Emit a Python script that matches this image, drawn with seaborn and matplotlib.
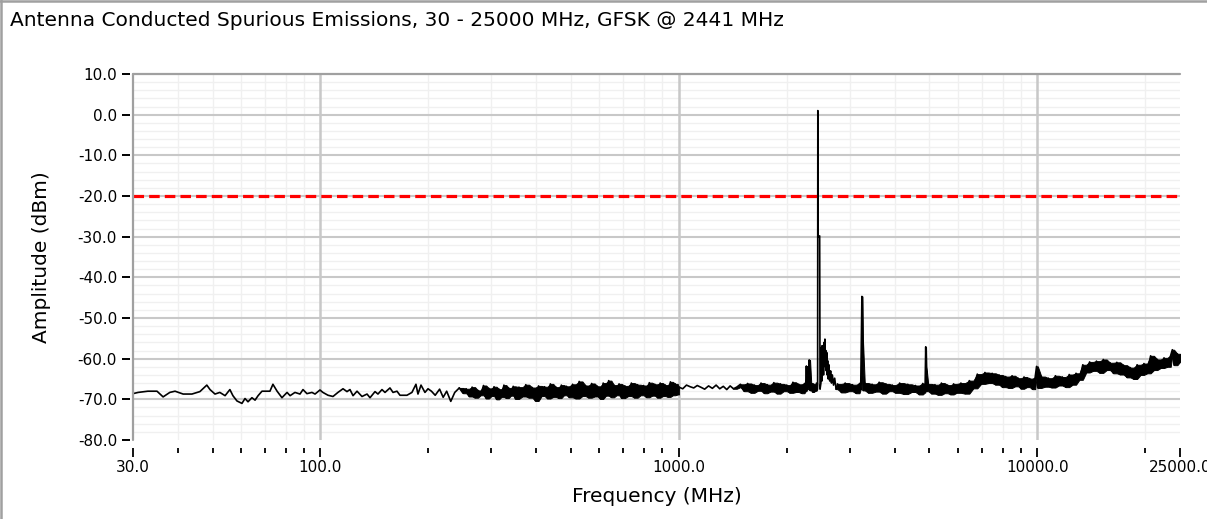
import numpy as np
import pandas as pd
import matplotlib
matplotlib.use("Agg")
import matplotlib.pyplot as plt
from matplotlib.lines import Line2D
from matplotlib.ticker import LogLocator, MultipleLocator, NullFormatter
import seaborn as sns

# ---------------- data ----------------
title = "Antenna Conducted Spurious Emissions, 30 - 25000 MHz, GFSK @ 2441 MHz"
x_label = "Frequency (MHz)"
y_label = "Amplitude (dBm)"

x_ticks = [30, 100, 1000, 10000, 25000]
x_tick_labels = ["30.0", "100.0", "1000.0", "10000.0", "25000.0"]
y_ticks = [-80, -70, -60, -50, -40, -30, -20, -10, 0, 10]
y_tick_labels = ["-80.0", "-70.0", "-60.0", "-50.0", "-40.0", "-30.0", "-20.0", "-10.0", "0.0", "10.0"]

limit_dbm = -20.0

# measured trace, (MHz, dBm) pairs, one list per sweep segment
sweep_30_250 = [
    (30.0, -68.6), (31.0, -68.3), (33.0, -68.0), (35.0, -68.0), (36.4, -69.4), (38.0, -68.3),
    (39.3, -68.0), (41.4, -68.7), (43.8, -68.7), (46.1, -68.1), (48.2, -66.5), (49.2, -67.6),
    (50.8, -68.7), (52.4, -68.3), (54.2, -69.1), (55.9, -67.6), (57.0, -69.1), (58.5, -70.4),
    (60.4, -71.0), (61.6, -69.8), (62.8, -70.6), (64.4, -69.6), (65.7, -70.2), (67.0, -69.1),
    (68.7, -68.0), (72.3, -68.0), (73.7, -66.3), (75.7, -68.0), (78.1, -69.6), (80.7, -68.3),
    (82.3, -69.1), (84.9, -68.3), (87.7, -68.7), (89.4, -67.6), (91.7, -68.6), (94.7, -68.3),
    (96.6, -68.7), (99.7, -67.7), (101.6, -68.3), (105.0, -69.0), (108.4, -69.3), (111.9, -68.3),
    (115.6, -67.4), (118.6, -68.1), (120.9, -67.6), (123.3, -69.1), (126.5, -68.0), (130.6, -69.3),
    (134.9, -68.7), (137.5, -69.6), (142.0, -68.1), (144.7, -68.7), (148.5, -67.6), (151.4, -68.3),
    (156.3, -67.2), (159.4, -68.3), (163.5, -68.0), (166.7, -69.0), (174.3, -69.0), (180.0, -68.3),
    (184.7, -66.3), (187.1, -68.7), (190.8, -66.5), (195.7, -68.3), (199.6, -67.4), (204, -68.0),
    (209, -69.0), (215, -67.5), (220, -69.5), (225, -68.0), (231, -70.5), (237, -68.3),
    (244, -67.2),
]
sweep_250_1000 = [
    (250, -68.5), (255, -67.4), (260, -69.3), (265, -67.0), (270, -69.6), (275, -67.8),
    (280, -69.0), (285, -66.6), (290, -69.8), (295, -67.3), (300, -69.2), (305, -66.9),
    (310, -70.0), (315, -67.5), (320, -69.4), (325, -66.5), (330, -69.7), (335, -67.2),
    (340, -69.1), (345, -66.8), (350, -69.9), (358, -67.0), (366, -69.3), (374, -66.4),
    (382, -69.6), (390, -67.1), (398, -70.4), (406, -66.7), (414, -69.2), (422, -66.9),
    (430, -69.8), (438, -66.2), (446, -69.4), (454, -67.0), (462, -69.7), (470, -66.5),
    (478, -69.0), (486, -66.8), (494, -69.5), (505, -66.3), (516, -69.8), (527, -65.6),
    (538, -69.2), (549, -66.6), (560, -69.6), (571, -66.1), (582, -69.3), (593, -66.8),
    (604, -69.9), (615, -66.0), (626, -69.1), (637, -65.4), (648, -69.5), (659, -66.5),
    (670, -69.0), (681, -66.2), (692, -69.7), (707, -66.7), (722, -69.2), (737, -66.0),
    (752, -69.6), (767, -66.4), (782, -69.0), (797, -66.6), (812, -69.5), (827, -65.9),
    (842, -69.1), (857, -66.3), (872, -69.6), (887, -66.0), (902, -69.2), (917, -66.5),
    (932, -69.4), (947, -65.7), (962, -69.0), (977, -66.2), (992, -68.8), (1000, -67.0),
]
sweep_1000_1450 = [
    (1025, -67.4), (1050, -66.5), (1075, -66.9), (1100, -67.2), (1125, -66.6), (1150, -67.0),
    (1180, -67.5), (1210, -66.7), (1240, -67.3), (1270, -66.5), (1300, -67.4), (1330, -66.8),
    (1360, -67.6), (1390, -66.7), (1420, -67.4),
]
sweep_1450_2430 = [
    (1450, -67.0), (1485, -66.3), (1520, -68.0), (1555, -66.1), (1590, -68.4), (1625, -66.5),
    (1660, -67.9), (1695, -66.0), (1730, -68.5), (1765, -66.4), (1800, -68.1), (1840, -65.9),
    (1880, -68.6), (1920, -66.2), (1960, -68.0), (2000, -66.5), (2040, -68.4), (2080, -65.8),
    (2120, -68.2), (2160, -66.3), (2200, -68.5), (2240, -66.1), (2255, -68.0), (2268, -61.8),
    (2280, -67.5), (2295, -66.2), (2310, -60.3), (2322, -67.8), (2340, -66.0), (2360, -68.2),
    (2380, -66.3), (2400, -67.9), (2420, -66.0), (2432, -67.5),
]
sweep_carrier = [
    (2438, -66.0), (2441, 1.0), (2446, -30.0), (2470, -29.8), (2476, -67.5), (2490, -66.0),
    (2500, -57.2), (2505, -65.5), (2510, -56.8), (2518, -63.0), (2525, -57.5), (2532, -64.0),
    (2540, -56.0), (2548, -60.0), (2555, -55.2), (2562, -62.0), (2570, -58.0), (2578, -63.0),
    (2585, -58.5), (2592, -64.0), (2600, -60.5), (2610, -65.0), (2620, -61.5), (2635, -65.5),
    (2650, -63.0), (2665, -66.0), (2680, -64.0), (2700, -66.5), (2720, -64.8), (2745, -67.5),
]
sweep_2770_25000 = [
    (2770, -66.2), (2840, -68.3), (2910, -66.0), (2980, -68.0), (3050, -66.4), (3120, -68.5),
    (3190, -66.1), (3215, -67.5), (3228, -55.8), (3240, -44.7), (3252, -55.5), (3262, -67.8),
    (3300, -66.0), (3380, -68.4), (3460, -66.3), (3540, -68.1), (3620, -65.8), (3700, -68.6),
    (3780, -66.2), (3860, -68.0), (3940, -66.5), (4020, -68.4), (4130, -66.0), (4240, -68.7),
    (4350, -66.3), (4460, -68.2), (4570, -66.6), (4680, -68.8), (4790, -66.1), (4860, -68.3),
    (4872, -62.2), (4882, -57.1), (4892, -62.0), (4905, -68.0), (4960, -66.2), (5070, -68.6),
    (5180, -66.4), (5290, -68.9), (5400, -66.0), (5510, -68.5), (5620, -66.5), (5730, -68.8),
    (5840, -66.2), (5950, -68.4), (6120, -66.0), (6290, -68.6), (6460, -65.4), (6630, -67.3),
    (6800, -63.8), (6970, -66.2), (7140, -63.4), (7310, -66.0), (7480, -63.6), (7650, -66.4),
    (7820, -64.0), (7990, -67.0), (8160, -64.4), (8330, -67.2), (8500, -64.2), (8670, -66.8),
    (8840, -64.8), (9010, -67.4), (9180, -64.5), (9350, -67.0), (9520, -64.9), (9690, -67.5),
    (9860, -64.6), (9950, -61.9), (10030, -67.2), (10260, -64.4), (10500, -66.9), (10740, -64.8),
    (10980, -67.1), (11230, -64.2), (11480, -66.6), (11740, -64.5), (12000, -67.0), (12270, -63.9),
    (12540, -66.4), (12820, -63.6), (13100, -65.2), (13390, -61.5), (13690, -63.4), (13990, -60.8),
    (14300, -63.0), (14620, -60.6), (14940, -63.5), (15270, -60.2), (15610, -62.8), (15950, -61.0),
    (16300, -63.6), (16660, -60.9), (17030, -63.9), (17400, -61.6), (17780, -64.6), (18170, -62.2),
    (18570, -65.0), (18980, -61.5), (19400, -64.0), (19830, -61.2), (20260, -63.6), (20700, -59.3),
    (21150, -62.8), (21610, -60.2), (22080, -62.3), (22560, -59.8), (23050, -62.0), (23550, -59.2),
    (23800, -57.8), (24060, -61.6), (24580, -58.8), (25000, -60.8),
]

# ---------------- style ----------------
sns.set_theme(style="white")
plt.rcParams["font.family"] = ["DejaVu Sans"]
FS = 14.5
W, H = 1207, 519
MAJOR_GRID = "#c8c8c8"
FRAME = "#a0a0a0"

# (segment, dense?) -- dense sweeps render as a filled min/max band like the analyser trace
segments = [
    (sweep_30_250, False),
    (sweep_250_1000, True),
    (sweep_1000_1450, False),
    (sweep_1450_2430, True),
    (sweep_carrier, False),
    (sweep_2770_25000, True),
]

fig = plt.figure(figsize=(W / 100, H / 100), dpi=100)
fig.patch.set_facecolor("white")
ax = fig.add_axes([133 / W, 1 - 440 / H, 1047 / W, 366 / H])
ax.set_facecolor("white")

ax.set_xscale("log")
ax.set_xlim(x_ticks[0], x_ticks[-1])
ax.set_ylim(y_ticks[0], y_ticks[-1])

# faint minor grid, then solid major grid on top of it
ax.xaxis.set_minor_locator(LogLocator(base=10, subs=np.arange(2, 10) * 1.0, numticks=30))
ax.xaxis.set_minor_formatter(NullFormatter())
ax.yaxis.set_minor_locator(MultipleLocator(2))
ax.grid(which="minor", axis="both", color="#f0f0f0", lw=1.0)
ax.grid(which="major", visible=False)
ax.set_axisbelow(True)
for yv in y_ticks[1:-1]:
    ax.axhline(yv, color=MAJOR_GRID, lw=1.5, zorder=1)
for xv in x_ticks[1:-1]:
    ax.axvline(xv, color=MAJOR_GRID, lw=1.8, zorder=1)

prev_last = None
for seg, dense in segments:
    pts = ([prev_last] if prev_last is not None else []) + seg
    d = pd.DataFrame(pts, columns=["freq", "amp"])
    if dense:
        roll = d["amp"].rolling(2, min_periods=1)
        ax.fill_between(d["freq"], roll.min(), roll.max(), color="black",
                        linewidth=0.7, zorder=3)
    sns.lineplot(data=d, x="freq", y="amp", ax=ax, color="black", linewidth=1.2,
                 estimator=None, sort=False, zorder=4)
    prev_last = seg[-1]

ax.axhline(limit_dbm, color="#ff0000", lw=2.3, dashes=(3.3, 1.6), zorder=5)

ax.set_xticks(x_ticks)
ax.set_xticklabels(x_tick_labels, fontsize=FS)
ax.set_yticks(y_ticks)
ax.set_yticklabels(y_tick_labels, fontsize=FS)

for s in ax.spines.values():
    s.set_visible(False)
ax.spines["bottom"].set_position(("outward", 6))
ax.spines["left"].set_position(("outward", 2.5))

# plot frame (left at first x tick, top at last y tick)
ax.axvline(x_ticks[0], color=FRAME, lw=1.6, zorder=6, clip_on=False)
ax.axhline(y_ticks[-1], color=FRAME, lw=1.6, zorder=6, clip_on=False)

ax.tick_params(axis="x", which="major", direction="out", length=6.5, width=1.3,
               color="black", pad=2, labelcolor="black", bottom=True)
ax.tick_params(axis="x", which="minor", direction="out", length=3.5, width=1.3,
               color="black", bottom=True)
ax.tick_params(axis="y", which="major", direction="out", length=5.5, width=1.4,
               color="black", pad=3.5, labelcolor="black", left=True)
ax.tick_params(axis="y", which="minor", length=0)

ax.set_xlabel(x_label, fontsize=FS, color="black", va="center", ha="center")
ax.xaxis.set_label_coords(0.5, -(497 - 440) / 366)
ax.set_ylabel(y_label, fontsize=FS, color="black", va="center", ha="center")
ax.yaxis.set_label_coords(-(133 - 42) / 1047, 0.5)

fig.text(10 / W, 1 - 21 / H, title, fontsize=FS, color="black", ha="left", va="center")

# window border (top and left)
fig.add_artist(Line2D([0, 1], [1 - 1 / H, 1 - 1 / H], transform=fig.transFigure,
                      color=FRAME, lw=1.8))
fig.add_artist(Line2D([1 / W, 1 / W], [0, 1], transform=fig.transFigure,
                      color=FRAME, lw=1.8))

fig.savefig("out.png", dpi=100, facecolor="white")
